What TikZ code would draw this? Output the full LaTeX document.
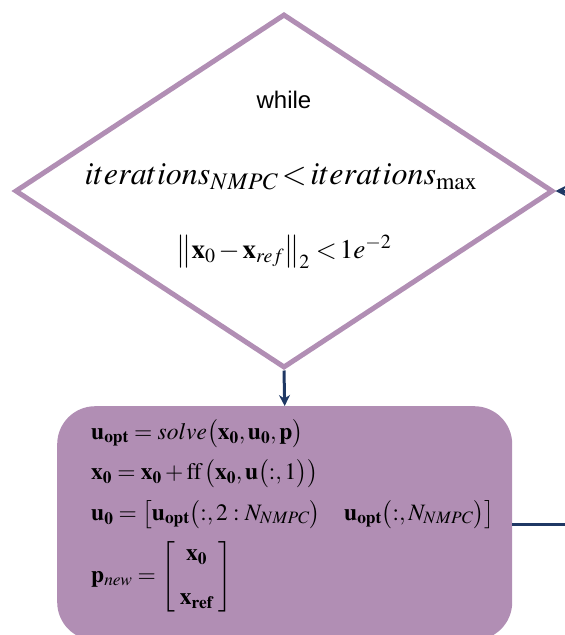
\documentclass[tikz,border=0pt]{standalone}
\usepackage{amsmath}
\usepackage{mathptmx}
\usepackage[no-math]{fontspec}
\setsansfont{Liberation Sans}
\usetikzlibrary{shapes.geometric,arrows.meta}
\definecolor{loopviolet}{RGB}{177,142,180}
\definecolor{flownavy}{RGB}{31,56,100}
\newcommand{\bv}[1]{\mathbf{#1}}

\begin{document}
\begin{tikzpicture}[
		x=1pt, y=-1pt,
		cond/.style = {diamond, draw=loopviolet, line width=5pt, minimum width=538pt, minimum height=354pt, inner sep=0pt},
		body/.style = {rounded corners=38pt, fill=loopviolet, minimum width=455pt, minimum height=234pt, inner sep=0pt},
		flow/.style = {draw=flownavy, line width=3pt, -{Stealth[length=11pt,width=11pt]}},
		lbl/.style  = {font=\fontsize{32}{36}\selectfont, inner sep=1pt},
		eqn/.style  = {font=\fontsize{23.5}{28}\selectfont, align=left, inner sep=0pt}
		]
		\useasboundingbox (0,0) rectangle (565,635);
		
		% while condition
		\node[cond] (cond) at (284,191) {};
		\node[font=\sffamily\fontsize{24}{28}\selectfont] (kw) at (284,100) {while};
		\node[lbl] (itr) at (281,177) {$iterations_{NMPC}\,{<}\,iterations_{\max}$};
		\node[lbl, font=\fontsize{27}{30}\selectfont] (nrm) at (284,252) {$\left\|\bv{x}_0\,{-}\,\bv{x}_{ref}\right\|_2\,{<}\,1e^{-2}$};
		
		% loop body
		\node[body, anchor=north west] (body) at (57,406) {};
		\node[eqn, anchor=west] (steps) at (91,516) {$\begin{array}{@{}l@{}}
				\bv{u}_{\bv{opt}} = solve\bigl(\bv{x}_{\bv{0}},\bv{u}_{\bv{0}},\bv{p}\bigr)\\[12pt]
				\bv{x}_{\bv{0}} = \bv{x}_{\bv{0}} + \mathrm{ff}\,\bigl(\bv{x}_{\bv{0}},\bv{u}\bigl(:,1\bigr)\bigr)\\[12pt]
				\bv{u}_{\bv{0}} = \bigl[\bv{u}_{\bv{opt}}\bigl(:,2:N_{NMPC}\bigr)\quad \bv{u}_{\bv{opt}}\bigl(:,N_{NMPC}\bigr)\bigr]\\[12pt]
				\bv{p}_{new} = \left[\begin{array}{c}\bv{x}_{\bv{0}}\\[16pt] \bv{x}_{\bv{ref}}\end{array}\right]
			\end{array}$};
		
		% connectors
		\coordinate (back) at (565,191);
		\coordinate (out) at (565,524);
		\draw[flow] (cond.south) -- (body.north);
		\draw[flow] (back) -- (cond.east);
		\draw[flownavy, line width=3pt] (body.east |- out) -- (out);
	\end{tikzpicture}
\end{document}
